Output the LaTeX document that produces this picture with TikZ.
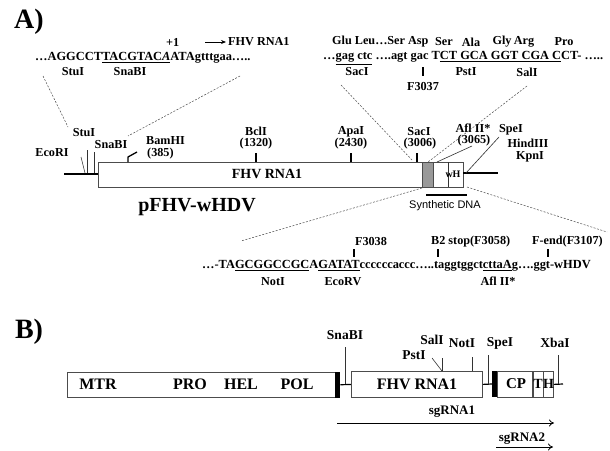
\documentclass[tikz,border=0pt]{standalone}
\usepackage{fontspec}
\setmainfont{Liberation Serif}
\newfontfamily\arialf{Liberation Sans}
\usetikzlibrary{arrows.meta}
\begin{document}
\begin{tikzpicture}[x=1pt,y=-1pt,
  lbl/.style={font=\fontsize{12.2}{13}\selectfont\bfseries, inner sep=0pt},
  lblB/.style={font=\fontsize{13.5}{14}\selectfont\bfseries, inner sep=0pt},
  seq/.style={font=\fontsize{12.4}{13}\selectfont\bfseries, inner sep=0pt, anchor=west},
  boxA/.style={draw=black!70, line width=0.8pt, fill=white},
  tickl/.style={line width=1.3pt},
  thinl/.style={line width=0.6pt, black!80},
  dline/.style={dash pattern=on 2pt off 1.5pt, line width=0.5pt, black!70},
  bbone/.style={line width=1.8pt},
  blk/.style={fill=black, draw=none},
  panel/.style={font=\fontsize{28}{30}\selectfont\bfseries, inner sep=0pt}]
\useasboundingbox[fill=white] (0,0) rectangle (610,450);

% ---------------- Panel A ----------------
\node[panel] (pA) at (29,22) {A)};

% top-left sequence
\node[lbl, anchor=west] (p1) at (166,42) {+1};
\coordinate (arA) at (205,42);
\coordinate (arB) at (226,42);
\draw[line width=0.8pt, -{Stealth[length=5pt,width=4pt]}] (arA) -- (arB);
\node[lbl, anchor=west] (fhv1) at (228,42) {FHV RNA1};
\node[seq] (seqA) at (35,58) {…AGGCCT\underline{TACGTAC}\underline{\textit{A}}ATAgtttgaa…..};
\node[lbl] (stuS) at (73,72) {StuI};
\node[lbl] (snaS) at (130,72) {SnaBI};

% top-right sequence
\node[lbl, anchor=west] (aa1) at (332,42) {Glu Leu…Ser Asp};
\node[lbl] (aa2) at (444,42) {Ser};
\node[lbl] (aa3) at (471,42) {Ala};
\node[lbl] (aa4) at (502,42) {Gly};
\node[lbl] (aa5) at (524,42) {Arg};
\node[lbl] (aa6) at (564,42) {Pro};
\node[seq] (seqB) at (323,58) {…\underline{gag ctc} ….agt gac T\underline{CT GCA GGT CGA C}CT- …..};
\node[lbl] (sacS) at (357,72) {SacI};
\coordinate (t37a) at (423,67);
\coordinate (t37b) at (423,76);
\draw[tickl] (t37a) -- (t37b);
\node[lbl] (pstS) at (466,72) {PstI};
\node[lbl] (salS) at (527,72) {SalI};
\node[lbl] (f3037) at (423,87) {F3037};

% plasmid map
\coordinate (bbL) at (64,174);
\coordinate (bbR) at (98,174);
\draw[bbone] (bbL) -- (bbR);
\node[boxA, minimum width=324pt, minimum height=25pt, anchor=north west, inner sep=0pt] (mainbox) at (98,162) {};
\node[font=\fontsize{14}{15}\selectfont\bfseries] (fhvA) at (267,174) {FHV RNA1};
\node[draw=black!70, fill=black!40, line width=0.8pt, minimum width=11pt, minimum height=25pt, anchor=north west, inner sep=0pt] (gray) at (422,162) {};
\node[boxA, minimum width=30pt, minimum height=25pt, anchor=north west, inner sep=0pt] (endbox) at (433,162) {};
\draw[thinl, line width=0.8pt] (448,162) -- (448,187);
\node[font=\fontsize{10}{11}\selectfont\bfseries, inner sep=0pt] (wH) at (453,174) {wH};
\coordinate (tlL) at (463,173);
\coordinate (tlR) at (498,173);
\draw[bbone] (tlL) -- (tlR);

% site ticks
\draw[thinl] (81,157) -- (85,173);
\node[lbl] (ecoR) at (52,153) {EcoRI};
\draw[thinl] (87,150) -- (87,173);
\node[lbl] (stuR) at (84,133) {StuI};
\draw[thinl] (94,152) -- (94,173);
\node[lbl] (snaR) at (111,145) {SnaBI};
\draw[tickl] (128,162) -- (128,157) -- (137,152);
\node[lbl, anchor=west] (bam) at (146,141) {BamHI};
\node[lbl, anchor=west] (bamn) at (147,154) {(385)};
\draw[tickl] (256,162) -- (256,153);
\node[lbl] (bcl) at (256,131) {BclI};
\node[lbl] (bcln) at (256,144) {(1320)};
\draw[tickl] (351,162) -- (351,153);
\node[lbl] (apa) at (351,132) {ApaI};
\node[lbl] (apan) at (351,144) {(2430)};
\draw[tickl] (417,162) -- (417,153);
\node[lbl] (sac) at (419,132) {SacI};
\node[lbl] (sacn) at (420,144) {(3006)};
\node[lbl] (afl) at (473,128) {Afl II*};
\node[lbl] (afln) at (474,141) {(3065)};
\draw[thinl] (437,162) -- (472,146);
\node[lbl] (spe) at (511,130) {SpeI};
\draw[thinl] (466,173) -- (499,137);
\node[lbl] (hind) at (528,143) {HindIII};
\node[lbl] (kpn) at (530,157) {KpnI};
\coordinate (synL) at (426,195);
\coordinate (synR) at (467,195);
\draw[bbone] (synL) -- (synR);
\node[font=\fontsize{11}{12}\selectfont\arialf, inner sep=0pt] (syn) at (445,206) {Synthetic DNA};
\node[font=\fontsize{20}{22}\selectfont\bfseries, inner sep=0pt] (pname) at (197,207) {pFHV-wHDV};

% dashed zoom lines
\coordinate (d1a) at (43,76);  \coordinate (d1b) at (68,127);
\coordinate (d2a) at (240,76); \coordinate (d2b) at (128,136);
\coordinate (d3a) at (341,85); \coordinate (d3b) at (412,160);
\coordinate (d4a) at (527,86); \coordinate (d4b) at (428,162);
\coordinate (d5a) at (422,188); \coordinate (d5b) at (241,241);
\coordinate (d6a) at (467,187); \coordinate (d6b) at (607,232);
\draw[dline] (d1a) -- (d1b);
\draw[dline] (d2a) -- (d2b);
\draw[dline] (d3a) -- (d3b);
\draw[dline] (d4a) -- (d4b);
\draw[dline] (d5a) -- (d5b);
\draw[dline] (d6a) -- (d6b);

% bottom sequence
\node[lbl] (f3038) at (371,241) {F3038};
\draw[tickl] (354,249) -- (354,257);
\node[lbl, anchor=west] (b2) at (431,242) {B2 stop(F3058)};
\draw[tickl] (438,249) -- (438,257);
\node[lbl, anchor=west] (fend) at (532,242) {F-end(F3107)};
\draw[tickl] (548,249) -- (548,257);
\node[seq] (seqC) at (202,266) {…-TA\underline{GCGGCCGC}A\underline{GATAT}ccccccaccc…..taggtggct\underline{cttaA}g….ggt-wHDV};
\node[lbl] (notS) at (273,282) {NotI};
\node[lbl] (ecoV) at (343,282) {EcoRV};
\node[lbl] (aflS) at (498,281) {Afl II*};

% ---------------- Panel B ----------------
\node[panel] (pB) at (29,332) {B)};
\node[boxA, minimum width=268pt, minimum height=25pt, anchor=north west, inner sep=0pt] (bbox1) at (67,372) {};
\node[blk, minimum width=5pt, minimum height=26pt, anchor=north west, inner sep=0pt] (bar1) at (335,371.5) {};
\node[font=\fontsize{16}{17}\selectfont\bfseries] (mtr) at (98,384) {MTR};
\node[font=\fontsize{16}{17}\selectfont\bfseries] (pro) at (190,384) {PRO};
\node[font=\fontsize{16}{17}\selectfont\bfseries] (hel) at (241,384) {HEL};
\node[font=\fontsize{16}{17}\selectfont\bfseries] (pol) at (297,384) {POL};
\draw[line width=1.2pt] (bar1.east) -- (351,384.5);
\draw[thinl] (345,347) -- (345,384);
\node[lblB] (snaB) at (345,335) {SnaBI};
\node[boxA, minimum width=131pt, minimum height=26pt, anchor=north west, inner sep=0pt] (bbox2) at (351,371) {};
\node[font=\fontsize{16}{17}\selectfont\bfseries] (fhvB) at (417,384) {FHV RNA1};
\draw[thinl] (442,371) -- (442,358);
\node[lblB] (salB) at (432,340) {SalI};
\draw[thinl] (442,371) -- (432,358);
\node[lblB] (pstB) at (414,355) {PstI};
\draw[thinl] (472,371) -- (472,357);
\node[lblB] (notB) at (462,343) {NotI};
\draw[line width=1.2pt] (bbox2.east) -- (492,384);
\draw[thinl] (488,355) -- (488,384);
\node[lblB] (speB) at (500,343) {SpeI};
\node[blk, minimum width=5pt, minimum height=26pt, anchor=north west, inner sep=0pt] (bar2) at (492,371) {};
\node[boxA, minimum width=35pt, minimum height=26pt, anchor=north west, inner sep=0pt] (cp) at (497,371) {};
\node[font=\fontsize{15}{16}\selectfont\bfseries] (cpt) at (516,384) {CP};
\node[boxA, minimum width=10pt, minimum height=26pt, anchor=north west, inner sep=0pt] (tbox) at (533,371) {};
\node[boxA, minimum width=10pt, minimum height=26pt, anchor=north west, inner sep=0pt] (hbox) at (543,371) {};
\node[font=\fontsize{14}{15}\selectfont\bfseries, inner sep=0pt] (tt) at (538,384) {T};
\node[font=\fontsize{14}{15}\selectfont\bfseries, inner sep=0pt] (ht) at (548.5,384) {H};
\draw[line width=1.2pt] (hbox.east) -- (563,384);
\draw[thinl] (558,355) -- (558,384);
\node[lblB] (xbaB) at (555,343) {XbaI};
% sgRNAs
\coordinate (sg1a) at (337,423);
\coordinate (sg1b) at (554,423);
\draw[line width=0.8pt, -{To[length=5pt,width=7pt]}] (sg1a) -- (sg1b);
\node[font=\fontsize{13}{14}\selectfont\bfseries, inner sep=0pt] (sg1) at (452,412) {sgRNA1};
\coordinate (sg2a) at (496,447);
\coordinate (sg2b) at (553,447);
\draw[line width=0.8pt, -{To[length=5pt,width=7pt]}] (sg2a) -- (sg2b);
\node[font=\fontsize{13}{14}\selectfont\bfseries, inner sep=0pt] (sg2) at (522,439) {sgRNA2};
\end{tikzpicture}
\end{document}
